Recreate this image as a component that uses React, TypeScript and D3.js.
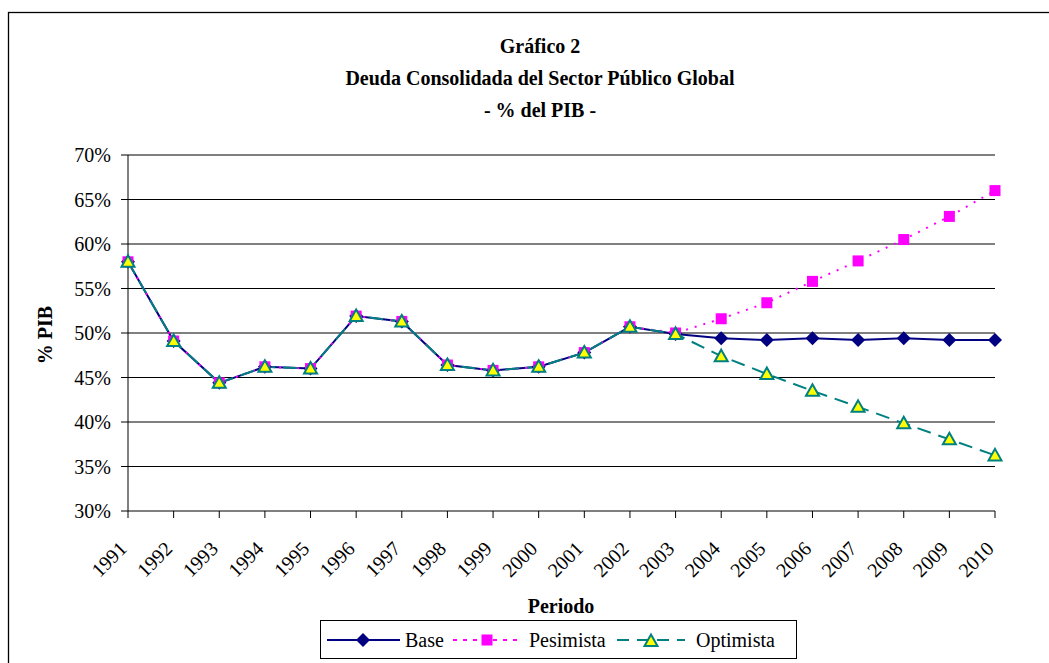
import React from "react";
import * as d3 from "d3";

const years = ["1991","1992","1993","1994","1995","1996","1997","1998","1999","2000","2001","2002","2003","2004","2005","2006","2007","2008","2009","2010"];
const base = [58.0,49.1,44.4,46.2,46.0,51.9,51.3,46.4,45.8,46.2,47.8,50.7,49.9,49.4,49.2,49.4,49.2,49.4,49.2,49.2];
const pesimista = [58.0,49.1,44.4,46.2,46.0,51.9,51.3,46.4,45.8,46.2,47.8,50.7,50.0,51.6,53.4,55.8,58.1,60.5,63.1,66.0];
const optimista = [58.0,49.1,44.4,46.2,46.0,51.9,51.3,46.4,45.8,46.2,47.8,50.7,49.9,47.4,45.4,43.5,41.7,39.85,38.05,36.25];
const yTicks = [30,35,40,45,50,55,60,65,70];
const titleLines = ["Gráfico 2","Deuda Consolidada del Sector Público Global","- %  del PIB -"];

const W = 1049, H = 663;
const FONT = "Liberation Serif";

export default function App() {
  const x = d3.scalePoint<string>().domain(years).range([128, 995]);
  const y = d3.scaleLinear().domain([30, 70]).range([511, 155]);
  const line = d3.line<number>().x((_, i) => x(years[i]) as number).y((d) => y(d));

  const diamond = (cx: number, cy: number, key: string) => (
    <path key={key} d={`M${cx},${cy - 7}L${cx + 7},${cy}L${cx},${cy + 7}L${cx - 7},${cy}Z`} fill="#000080" />
  );
  const square = (cx: number, cy: number, key: string) => (
    <rect key={key} x={cx - 5.5} y={cy - 5.5} width={11} height={11} fill="#FF00FF" />
  );
  const triangle = (cx: number, cy: number, key: string) => (
    <path key={key} d={`M${cx},${cy - 6.5}L${cx + 6.5},${cy + 5}L${cx - 6.5},${cy + 5}Z`} fill="#FFFF00" stroke="#008080" strokeWidth={2} strokeLinejoin="miter" />
  );
  const ts = { fontFamily: FONT };

  return (
    <svg width={W} height={H} style={{ position: "absolute", left: 0, top: 0, background: "#fff", fontFamily: FONT }}>
      <rect x={8.5} y={12.5} width={1100} height={700} fill="#fff" stroke="#000" strokeWidth={1.3} />
      {titleLines.map((t, i) => (
        <text key={t} x={540} y={53 + i * 32} textAnchor="middle" fontWeight="bold" fontSize={20} style={ts}>{t}</text>
      ))}
      {yTicks.map((t) => (
        <g key={t}>
          <line x1={121} x2={995} y1={y(t)} y2={y(t)} stroke="#000" strokeWidth={1} />
          <text x={111} y={y(t) + 7} textAnchor="end" fontSize={20} style={ts}>{t}%</text>
        </g>
      ))}
      <line x1={128} x2={128} y1={155} y2={511} stroke="#000" />
      {years.map((yr) => {
        const px = x(yr) as number;
        return (
          <g key={yr}>
            <line x1={px} x2={px} y1={511} y2={518} stroke="#000" />
            <text transform={`translate(${px},${550}) rotate(-45)`} textAnchor="end" fontSize={20} style={ts}>{yr}</text>
          </g>
        );
      })}
      <text transform="translate(52,335) rotate(-90)" textAnchor="middle" fontWeight="bold" fontSize={20} style={ts}>% PIB</text>
      <text x={561} y={613} textAnchor="middle" fontWeight="bold" fontSize={20} style={ts}>Periodo</text>

      <path d={line(base) || ""} fill="none" stroke="#000080" strokeWidth={2} />
      <path d={line(pesimista) || ""} fill="none" stroke="#FF00FF" strokeWidth={2} strokeDasharray="2,7" />
      <path d={line(optimista) || ""} fill="none" stroke="#008080" strokeWidth={2} strokeDasharray="14,8" />
      {base.map((v, i) => diamond(x(years[i]) as number, y(v), "b" + i))}
      {pesimista.map((v, i) => square(x(years[i]) as number, y(v), "p" + i))}
      {optimista.map((v, i) => triangle(x(years[i]) as number, y(v), "o" + i))}

      <rect x={320.5} y={620.5} width={476} height={38} fill="#fff" stroke="#000" />
      <line x1={327} x2={400} y1={640} y2={640} stroke="#000080" strokeWidth={2} />
      {diamond(363, 640, "lb")}
      <text x={405} y={647} fontSize={20} style={ts}>Base</text>
      <line x1={453} x2={521} y1={640} y2={640} stroke="#FF00FF" strokeWidth={2} strokeDasharray="4,6" />
      {square(487, 640, "lp")}
      <text x={529} y={647} fontSize={20} style={ts}>Pesimista</text>
      <line x1={617} x2={685} y1={640} y2={640} stroke="#008080" strokeWidth={2} strokeDasharray="12,8" />
      {triangle(651, 641, "lo")}
      <text x={696} y={647} fontSize={20} style={ts}>Optimista</text>
    </svg>
  );
}
